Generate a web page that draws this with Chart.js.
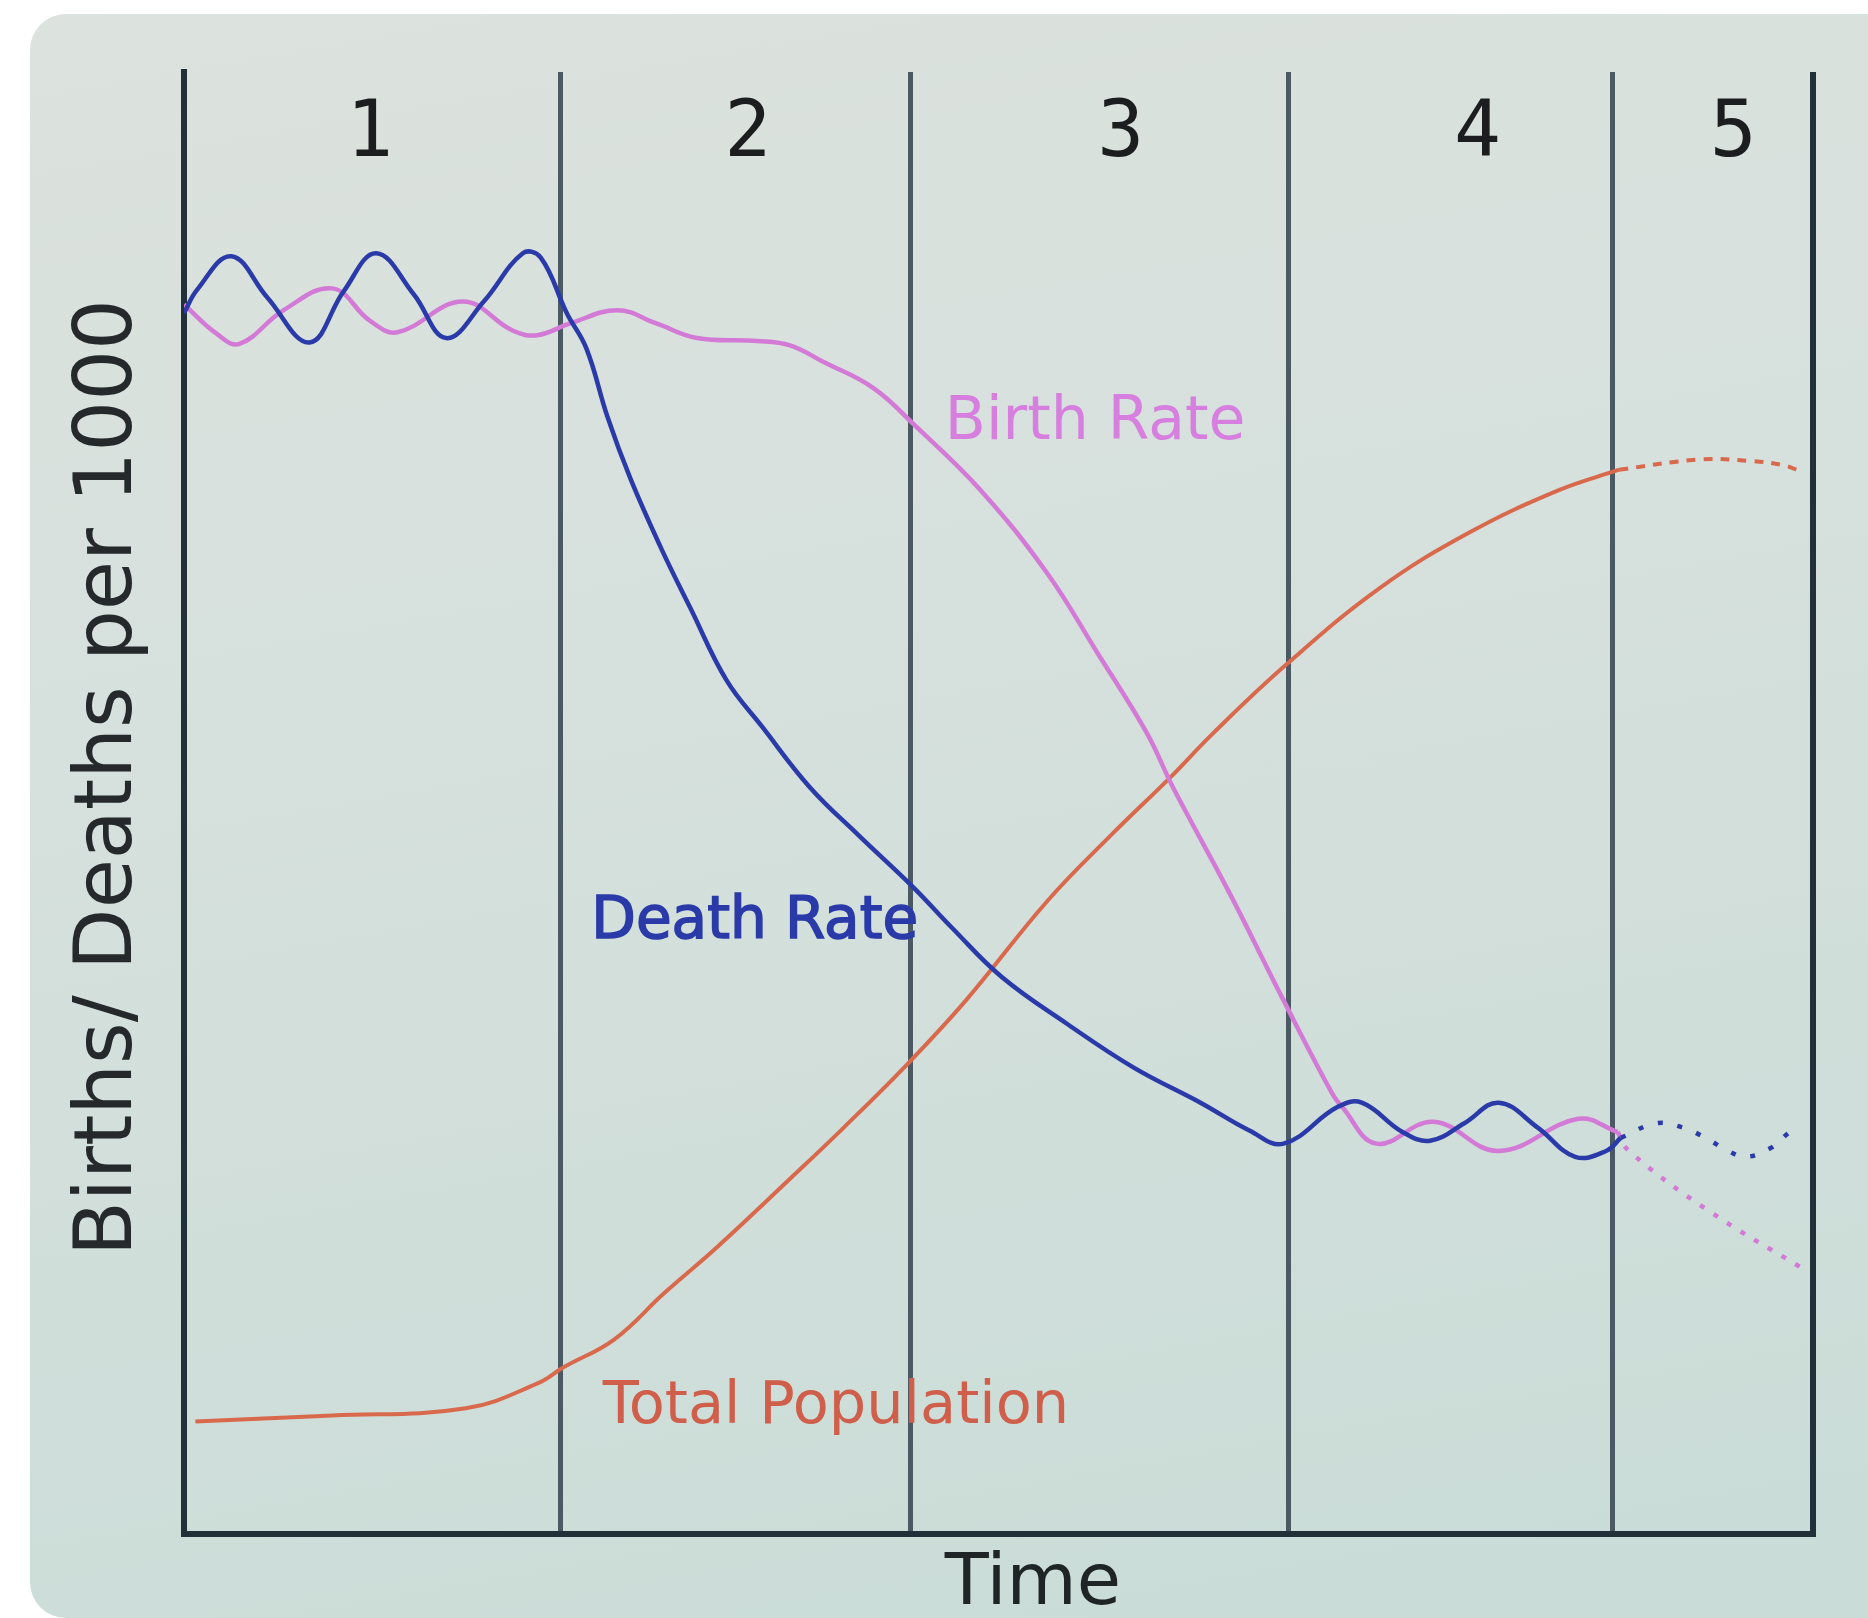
<!DOCTYPE html><html lang="en"><head><meta charset="utf-8">
<title>Demographic Transition Model</title>
<script src="https://cdn.jsdelivr.net/npm/chart.js@4.4.1/dist/chart.umd.min.js"></script>
<style>
html, body {
  margin: 0;
  padding: 0;
  background: #fff;
  overflow: hidden;
}
body {
  width: 1868px;
  height: 1618px;
  position: relative;
}
#card {
  position: absolute;
  left: 30px;
  top: 14px;
  width: 1838px;
  height: 1604px;
  border-radius: 36px 0 0 36px;
  background: linear-gradient(170deg, #dce2de 0%, #d5e0dc 45%, #c9dcd7 100%);
}
#wrap {
  position: absolute;
  left: 0;
  top: 0;
}
</style>
</head><body>

<div id=card></div>
<div id=wrap><canvas id=myChart width="1868" height="1660"></canvas></div>

<script>
// time runs 0..100 across the plot, rates 0..100 up the plot
const stageEdges = [0, 23.1, 44.6, 67.8, 87.7, 100];
const stageCenters = [11.4, 34.6, 57.5, 79.4, 95.1];
const stageLabels = ["1", "2", "3", "4", "5"];

const deathRate = [
  [0, 83.5], [0.8, 85.1], [2.9, 87.4], [5.1, 84.6], [7.7, 81.5], [9.8, 85.0],
  [11.8, 87.6], [14.1, 84.8], [16.1, 81.8], [18.4, 84.3], [20.8, 87.6], [21.9, 87.3],
  [23.5, 83.5], [24.7, 81.1], [26.0, 76.4], [27.4, 72.2], [29.3, 67.4], [31.1, 63.3],
  [33.3, 58.4], [35.5, 55.2], [38.4, 51.1], [41.4, 47.8], [44.8, 44.2], [47.2, 41.4],
  [50.2, 38.1], [54.2, 34.9], [58.3, 31.9], [62.4, 29.5], [65.4, 27.6], [67.5, 26.7],
  [70.8, 29.2], [72.3, 29.5], [74.8, 27.5], [76.5, 26.9], [78.6, 28.1], [80.7, 29.5],
  [83.1, 27.8], [85.4, 25.8], [87.3, 26.2], [88.2, 27.1],
];
const deathRateProj = [
  [88.2, 27.1], [90.4, 28.1], [92.0, 27.8], [93.4, 27.1], [94.8, 26.2],
  [95.9, 25.8], [97.4, 26.4], [98.6, 27.5], [99.3, 27.8],
];

const birthRate = [
  [0, 84.1], [2.0, 82.1], [3.4, 81.4], [6.1, 83.7], [9.1, 85.2], [11.4, 83.0],
  [13.1, 82.2], [17.1, 84.3], [20.2, 82.3], [21.7, 82.0], [23.7, 82.8], [26.6, 83.7],
  [29.0, 82.8], [31.5, 81.8], [35.2, 81.6], [37.2, 81.3], [39.2, 80.2], [42.3, 78.4],
  [44.8, 75.9], [48.9, 71.4], [53.0, 65.7], [56.0, 60.4], [59.1, 54.8], [60.7, 51.1],
  [64.2, 43.8], [67.5, 36.5], [70.5, 30.1], [71.1, 29.2], [73.2, 26.7], [76.7, 28.2],
  [80.7, 26.2], [85.6, 28.4], [88.0, 27.5],
];
const birthRateProj = [[88.0, 27.5], [88.7, 26.2], [93.6, 22.1], [99.3, 18.2]];

const population = [
  [0.7, 7.7], [9.1, 8.1], [17.3, 8.6], [21.7, 10.3], [23.3, 11.4], [26.4, 13.3],
  [29.5, 16.5], [32.7, 19.6], [37.3, 24.4], [40.5, 27.8], [44.2, 31.9], [48.0, 36.5],
  [53.0, 43.3], [57.0, 47.9], [60.5, 51.7], [63.2, 54.8], [67.7, 59.5], [73.4, 64.7],
  [78.9, 68.5], [84.4, 71.4], [88.1, 72.8],
];
const populationProj = [[88.1, 72.8], [93.1, 73.5], [96.1, 73.4], [98.2, 73.1], [99.2, 72.7]];

// curve captions, anchored at (time, rate) of their baseline start
const captions = [
  { text: "Birth Rate", x: 46.7, y: 74.9, color: "#d67fdf", font: "60px 'DejaVu Sans'" },
  { text: "Death Rate", x: 25.0, y: 40.8, color: "#2a3aa8", font: "58px 'DejaVu Sans'", stroke: 1.6 },
  { text: "Total Population", x: 25.7, y: 7.6, color: "#cf5e4a", font: "59px 'DejaVu Sans'" },
];

const pts = (arr) => arr.map(([x, y]) => ({ x, y }));

const BLUE = "#2a3aa8";
const PINK = "#d37ad6";
const ORANGE = "#d9694c";

const line = (data, color, width, dash) => ({
  data: pts(data),
  borderColor: color,
  borderWidth: width,
  borderDash: dash || [],
  pointRadius: 0,
  tension: 0.4,
  fill: false,
});

const datasets = [
  line(deathRate, BLUE, 4.5),
  line(deathRateProj, BLUE, 4.5, [5, 15]),
  line(birthRate, PINK, 4.5),
  line(birthRateProj, PINK, 4.5, [5, 11]),
  line(population, ORANGE, 4),
  line(populationProj, ORANGE, 4, [9, 8]),
];

const captionPlugin = {
  id: "captions",
  afterDatasetsDraw(chart) {
    const { ctx, scales } = chart;
    captions.forEach((c) => {
      const px = scales.x.getPixelForValue(c.x);
      const py = scales.y.getPixelForValue(c.y);
      ctx.save();
      ctx.font = c.font;
      ctx.textBaseline = "alphabetic";
      ctx.fillStyle = c.color;
      ctx.fillText(c.text, px, py);
      if (c.stroke) {
        ctx.strokeStyle = c.color;
        ctx.lineWidth = c.stroke;
        ctx.strokeText(c.text, px, py);
      }
      ctx.restore();
    });
  },
};

const isFrame = (i) => i === 0 || i === stageEdges.length - 1;

const ctx = myChart.getContext("2d");
const chart = new Chart(ctx, {
  type: "line",
  data: { datasets },
  plugins: [captionPlugin],
  options: {
    responsive: false,
    animation: false,
    layout: { padding: { left: 40, top: 38, right: 55, bottom: 31.6 } },
    plugins: {
      legend: { display: false },
      tooltip: { enabled: false },
    },
    scales: {
      x: {
        type: "linear",
        position: "bottom",
        min: 0,
        max: 100,
        afterBuildTicks: (s) => { s.ticks = stageEdges.map((v) => ({ value: v })); },
        ticks: { display: false },
        grid: {
          drawTicks: false,
          color: (c) => (isFrame(c.index) ? "#22303a" : "#4b5a62"),
          lineWidth: (c) => (isFrame(c.index) ? 6 : 5),
        },
        border: { display: true, color: "#22303a", width: 6 },
        title: {
          display: true,
          text: "   Time",
          color: "#1f2426",
          font: { family: "DejaVu Sans", size: 72 },
          padding: { top: 8, bottom: 0 },
        },
      },
      x2: {
        axis: "x",
        type: "linear",
        position: "top",
        min: 0,
        max: 100,
        afterBuildTicks: (s) => { s.ticks = stageCenters.map((v) => ({ value: v })); },
        ticks: {
          mirror: true,
          padding: 17,
          autoSkip: false,
          maxRotation: 0,
          color: "#1b1d1e",
          font: { family: "DejaVu Sans Mono", size: 78 },
          callback: (v, i) => stageLabels[i],
        },
        grid: { display: false, drawTicks: false },
        border: { display: false },
      },
      y: {
        min: 0,
        max: 100,
        ticks: { display: false },
        grid: { display: false, drawTicks: false },
        border: { display: true, color: "#22303a", width: 6 },
        title: {
          display: true,
          text: "  Births/ Deaths per 1000",
          color: "#25292b",
          font: { family: "DejaVu Sans", size: 80 },
          padding: { top: 22, bottom: 26 },
        },
      },
    },
  },
});
</script>

</body>
</html>
